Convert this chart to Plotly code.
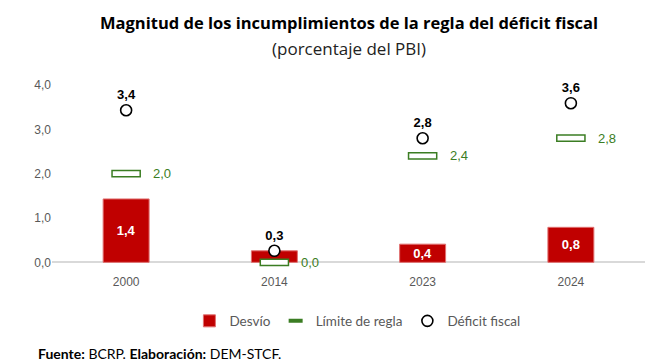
import plotly.graph_objects as go

categories = ["2000", "2014", "2023", "2024"]
desvio = [1.43, 0.26, 0.41, 0.79]
limite = [2.0, 0.0, 2.4, 2.8]
deficit = [3.43, 0.26, 2.8, 3.59]
desvio_labels = ["1,4", "", "0,4", "0,8"]
limite_labels = ["2,0", "0,0", "2,4", "2,8"]
deficit_labels = ["3,4", "0,3", "2,8", "3,6"]
y_ticks = [0, 1, 2, 3, 4]
y_ticklabels = ["0,0", "1,0", "2,0", "3,0", "4,0"]

RED = "#C00000"
GREEN = "#3B7D23"
HALF = 0.07

fig = go.Figure()

fig.add_trace(go.Bar(
    x=categories, y=desvio, name="Desvío", width=0.31,
    marker=dict(color=RED, line=dict(color="#E07070", width=1)),
    text=["<b>" + t + "</b>" if t else "" for t in desvio_labels],
    textposition="inside", insidetextanchor="middle",
    constraintext="none",
    textfont=dict(color="white", size=13, family="Liberation Sans"),
    legendrank=1, hoverinfo="skip",
))

fig.add_trace(go.Bar(
    x=categories, y=[2 * HALF] * len(limite), base=[v - HALF for v in limite],
    width=0.19, showlegend=False,
    marker=dict(color="white", line=dict(color=GREEN, width=1.5)),
    hoverinfo="skip",
))

fig.add_trace(go.Scatter(
    x=[None], y=[None], mode="markers", name="Límite de regla",
    marker=dict(symbol="line-ew", size=10, color=GREEN, line=dict(color=GREEN, width=4)),
    legendrank=2,
))

fig.add_trace(go.Scatter(
    x=categories, y=deficit, mode="markers+text", name="Déficit fiscal",
    marker=dict(symbol="circle", size=11, color="white", line=dict(color="black", width=1.6)),
    text=["<b>" + t + "</b>" for t in deficit_labels], textposition="top center",
    textfont=dict(color="black", size=13, family="Liberation Sans"),
    cliponaxis=False, legendrank=3, hoverinfo="skip",
))

for i, (v, t) in enumerate(zip(limite, limite_labels)):
    fig.add_annotation(x=i, y=v, text=t, showarrow=False, xanchor="left", xshift=25,
                       font=dict(color=GREEN, size=13, family="Liberation Sans"))

fig.add_annotation(xref="paper", yref="paper", x=0.5, y=1, yshift=63,
                   xanchor="center", yanchor="middle", showarrow=False,
                   text="<b>Magnitud de los incumplimientos de la regla del déficit fiscal</b>",
                   font=dict(size=16.5, color="black", family="Open Sans"))
fig.add_annotation(xref="paper", yref="paper", x=0.5, y=1, yshift=37,
                   xanchor="center", yanchor="middle", showarrow=False,
                   text="(porcentaje del PBI)",
                   font=dict(size=17, color="#222222", family="Open Sans"))
fig.add_annotation(xref="paper", yref="paper", x=0, xshift=-16, y=0, yshift=-84,
                   xanchor="left", yanchor="middle", showarrow=False,
                   text="<b>Fuente:</b> BCRP. <b>Elaboración:</b> DEM-STCF.",
                   font=dict(size=14, color="black", family="Lato"))

fig.update_layout(
    width=654, height=364,
    margin=dict(l=52, r=9, t=85, b=95, autoexpand=False),
    paper_bgcolor="white", plot_bgcolor="white",
    barmode="overlay", separators=",.",
    showlegend=True, hovermode=False,
    legend=dict(orientation="h", x=0.515, xanchor="center", y=-0.283, yanchor="middle",
                font=dict(size=13.5, color="#595959", family="Lato"),
                itemwidth=30, traceorder="normal"),
    xaxis=dict(type="category", range=[-0.5, 3.5], showgrid=False, showline=False,
               zeroline=False, ticks="", ticklabelstandoff=4,
               tickfont=dict(size=12, color="#595959", family="Liberation Sans")),
    yaxis=dict(range=[-0.15, 4.0], tickvals=y_ticks, ticktext=y_ticklabels,
               showgrid=False, showline=False, zeroline=True, zerolinecolor="#D9D9D9",
               zerolinewidth=1.5, ticks="",
               tickfont=dict(size=12, color="#595959", family="Liberation Sans")),
)

fig.write_html("out.html", config={"displayModeBar": False},
               post_script="document.body.style.margin='0';")
